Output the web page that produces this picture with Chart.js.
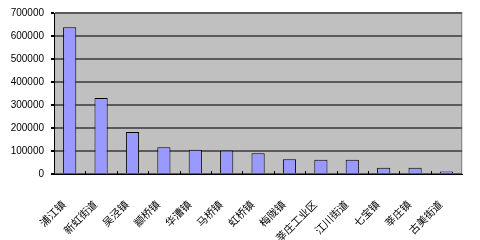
<!DOCTYPE html>
<html>
<head>
<meta charset="utf-8">
<script src="https://cdn.jsdelivr.net/npm/chart.js@4/dist/chart.umd.min.js"></script>
<style>
html,body{margin:0;padding:0;background:#fff;}
#wrap{width:480px;height:240px;}
</style>
</head>
<body>
<div id="wrap"><canvas id="c" width="480" height="240"></canvas></div>
<script>
const categories = ["浦江镇","新虹街道","吴泾镇","颛桥镇","华漕镇","马桥镇","虹桥镇","梅陇镇","莘庄工业区","江川街道","七宝镇","莘庄镇","古美街道"];
const values = [638000,330000,183000,116000,105000,102000,90000,64000,62000,62000,27000,27000,11000];
const yMax = 700000;
const yStep = 100000;

const plotBg = {
  id:'plotBg',
  beforeDraw(chart){
    const {ctx, chartArea:a} = chart;
    ctx.save();
    ctx.fillStyle = '#c0c0c0';
    ctx.fillRect(a.left, a.top, a.right-a.left, a.bottom-a.top);
    ctx.strokeStyle = '#808080';
    ctx.lineWidth = 1;
    ctx.strokeRect(a.left+0.5, a.top+0.5, a.right-a.left-1, a.bottom-a.top-1);
    ctx.restore();
  },
  afterDatasetsDraw(chart){
    const {ctx, chartArea:a, scales:{x}} = chart;
    ctx.save();
    ctx.strokeStyle = '#000';
    ctx.lineWidth = 1;
    for(let i=0;i<categories.length-1;i++){
      const px = Math.round((x.getPixelForValue(i)+x.getPixelForValue(i+1))/2)+0.5;
      ctx.beginPath();
      ctx.moveTo(px, a.bottom);
      ctx.lineTo(px, a.bottom-3);
      ctx.stroke();
    }
    ctx.restore();
  }
};

new Chart(document.getElementById('c'), {
  type:'bar',
  data:{
    labels:categories,
    datasets:[{
      data:values,
      backgroundColor:'#9999ff',
      borderColor:'#000000',
      borderWidth:1,
      categoryPercentage:1,
      barPercentage:0.42
    }]
  },
  options:{
    responsive:false,
    animation:false,
    devicePixelRatio:1,
    layout:{padding:{top:12,right:16,left:0,bottom:0}},
    plugins:{legend:{display:false},tooltip:{enabled:false}},
    scales:{
      x:{
        afterFit(s){ s.height = 66; },
        grid:{display:false, drawTicks:false},
        border:{display:true,color:'#000',width:1},
        ticks:{
          autoSkip:false,
          maxRotation:45,minRotation:45,
          padding:24,
          labelOffset:-6,
          color:'#000',
          font:{family:'"Noto Sans CJK SC"',size:10.5}
        }
      },
      y:{
        min:0,max:yMax,
        afterFit(s){ s.width = 54; },
        afterBuildTicks(s){
          s.ticks = [];
          for(let v=0; v<=yMax; v+=yStep) s.ticks.push({value:v});
        },
        grid:{color:'#5a5a5a',lineWidth:2,tickColor:'#000',tickLength:3,drawTicks:true},
        border:{display:true,color:'#000',width:1},
        ticks:{
          padding:7,
          color:'#000',
          font:{family:'"Liberation Sans"',size:10},
          callback:(v)=>String(v)
        }
      }
    }
  },
  plugins:[plotBg]
});
</script>
</body>
</html>
